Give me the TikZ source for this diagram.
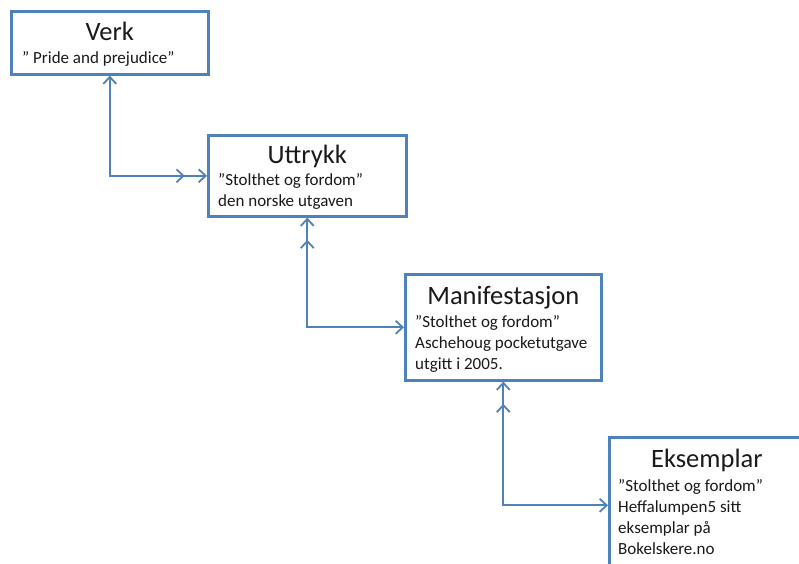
\documentclass[tikz,border=0pt]{standalone}
\usepackage{fontspec}
\setmainfont{Carlito}
\usetikzlibrary{arrows.meta,positioning}
\definecolor{boxblue}{HTML}{4F81BD}
\definecolor{textgrey}{HTML}{1A1A1A}

\begin{document}
\begin{tikzpicture}[x=1pt,y=-1pt]
				\tikzstyle{box}=[rectangle,draw=boxblue,line width=2.6pt,fill=white,inner sep=0pt,anchor=north west]
				\tikzstyle{title}=[anchor=base,inner sep=0pt,text=textgrey,font=\fontsize{26.5}{32}\selectfont]
				% first line carries a strut, so the top sits 0.7 baselineskip above its baseline
				\tikzstyle{body}=[anchor=north west,yshift=14.7pt,inner sep=0pt,align=left,text=textgrey,font=\fontsize{17}{21}\selectfont]
				\tikzstyle{link}=[draw=boxblue,line width=1.8pt,{Straight Barb[length=7pt,width=13pt]}-{Straight Barb[length=7pt,width=13pt,sep=13pt]Straight Barb[length=7pt,width=13pt]}]
				\useasboundingbox (0,0) rectangle (799,563);
				% the four boxes
				\node[box,minimum width=197pt,minimum height=63pt] (verk) at (10,10) {};
				\node[box,minimum width=198pt,minimum height=81pt] (uttrykk) at (207,134) {};
				\node[box,minimum width=196pt,minimum height=106pt] (manif) at (404,273) {};
				\node[box,minimum width=195pt,minimum height=136pt] (eks) at (608,436) {};
				% texts
				\node[title] (verkT) at (verk.center |- 0,40) {Verk};
				\node[body] (verkB) at (22,63) {\strut” Pride and prejudice”};
				\node[title] (uttrykkT) at (uttrykk.center |- 0,163) {Uttrykk};
				\node[body] (uttrykkB) at (218,185) {\strut”Stolthet og fordom”\\den norske utgaven};
				\node[title] (manifT) at (manif.center |- 0,304) {Manifestasjon};
				\node[body] (manifB) at (415,327) {\strut”Stolthet og fordom”\\Aschehoug pocketutgave\\utgitt i 2005.};
				\node[title] (eksT) at (eks.center |- 0,467) {Eksemplar};
				\node[body] (eksB) at (618,491) {\strut”Stolthet og fordom”\\Heffalumpen5 sitt\\eksemplar på\\Bokelskere.no};
				% connectors
				\draw[link] (verk.south) |- (uttrykk.west);
				\draw[link] (manif.west) -| (uttrykk.south);
				\draw[link] (eks.west) -| (manif.south);
			\end{tikzpicture}
\end{document}
